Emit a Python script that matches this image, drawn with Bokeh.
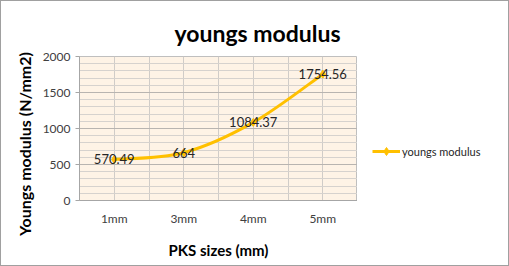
from bokeh.plotting import figure
from bokeh.layouts import row
from bokeh.models import (Range1d, FixedTicker, Legend, LegendItem, ColumnDataSource,
                          SingleIntervalTicker)
from bokeh.embed import file_html
from bokeh.resources import INLINE
from bokeh.core.properties import value

categories = ["1mm", "3mm", "4mm", "5mm"]
values = [570.49, 664, 1084.37, 1754.56]
labels = ["570.49", "664", "1084.37", "1754.56"]
series_name = "youngs modulus"
chart_title = "youngs modulus"
x_title = "PKS sizes (mm)"
y_title = "Youngs modulus (N/mm2)"

FONT = "Lato"
LINE_COLOR = "#FFC000"

xs = [i + 0.5 for i in range(len(categories))]

p = figure(width=356, height=264, output_backend="svg", toolbar_location=None,
           x_range=Range1d(0, len(categories)), y_range=Range1d(0, 2000),
           min_border_left=78, min_border_right=0, min_border_top=55, min_border_bottom=65)
p.background_fill_color = "#FEF3E6"
p.border_fill_color = "white"
p.outline_line_color = "#BFBFBF"

# title (left aligned, offset so it is centred on the whole chart)
p.title.text = chart_title
p.title.align = "left"
p.title.offset = 95
p.title.standoff = 20
p.title.text_font = FONT
p.title.text_font_size = "23px"
p.title.text_font_style = "bold"
p.title.text_color = "black"

# axes
p.xaxis.ticker = FixedTicker(ticks=xs)
p.xaxis.major_label_overrides = {x: c for x, c in zip(xs, categories)}
p.xaxis.major_tick_line_color = None
p.xaxis.minor_tick_line_color = None
p.xaxis.axis_line_color = "#A6A6A6"
p.xaxis.major_label_standoff = 4
p.xaxis.axis_label = x_title
p.xaxis.axis_label_standoff = 12

p.yaxis.ticker = SingleIntervalTicker(interval=500, num_minor_ticks=5)
p.yaxis.major_tick_out = 4
p.yaxis.major_tick_in = 0
p.yaxis.minor_tick_line_color = None
p.yaxis.major_tick_line_color = "#A6A6A6"
p.yaxis.axis_line_color = "#A6A6A6"
p.yaxis.major_label_standoff = 5
p.yaxis.axis_label = y_title + "\u00a0" * 8
p.yaxis.axis_label_standoff = 6

for ax in (p.xaxis, p.yaxis):
    ax.major_label_text_font = FONT
    ax.major_label_text_font_size = "12px"
    ax.major_label_text_color = "#404040"
    ax.axis_label_text_font = FONT
    ax.axis_label_text_font_style = "bold"
    ax.axis_label_text_color = "black"
p.xaxis.axis_label_text_font_size = "15px"
p.yaxis.axis_label_text_font_size = "16px"

# grids
p.xgrid.ticker = FixedTicker(ticks=[i * 0.5 for i in range(2 * len(categories) + 1)])
p.xgrid.grid_line_color = "#D0CCC8"
p.ygrid.grid_line_color = "#B8B4B0"
p.ygrid.minor_grid_line_color = "#D6D2CE"

# smooth (Excel-like) curve through the points
n = len(values)
px = xs
py = values
x0s, y0s, x1s, y1s, cx0, cy0, cx1, cy1 = [], [], [], [], [], [], [], []
for i in range(n - 1):
    p0 = (px[i - 1], py[i - 1]) if i > 0 else (px[i], py[i])
    p1 = (px[i], py[i])
    p2 = (px[i + 1], py[i + 1])
    p3 = (px[i + 2], py[i + 2]) if i + 2 < n else (px[i + 1], py[i + 1])
    x0s.append(p1[0]); y0s.append(p1[1])
    x1s.append(p2[0]); y1s.append(p2[1])
    cx0.append(p1[0] + (p2[0] - p0[0]) / 6); cy0.append(p1[1] + (p2[1] - p0[1]) / 6)
    cx1.append(p2[0] - (p3[0] - p1[0]) / 6); cy1.append(p2[1] - (p3[1] - p1[1]) / 6)
p.bezier(x0=x0s, y0=y0s, x1=x1s, y1=y1s, cx0=cx0, cy0=cy0, cx1=cx1, cy1=cy1,
         line_color=LINE_COLOR, line_width=3)

src = ColumnDataSource(dict(x=xs, y=values, t=labels))
p.scatter("x", "y", source=src, marker="diamond", size=8, color=LINE_COLOR)
p.text("x", "y", text="t", source=src, text_align="center", text_baseline="middle",
       text_font=value(FONT), text_font_size="13px", text_color="#262626")

# legend area as a separate small figure
lf = figure(width=151, height=264, output_backend="svg", toolbar_location=None,
            x_range=Range1d(0, 1), y_range=Range1d(0, 1),
            x_axis_location=None, y_axis_location=None,
            min_border_left=0, min_border_right=0, min_border_top=0, min_border_bottom=0)
lf.grid.visible = False
lf.outline_line_color = None
lf.background_fill_color = "white"
lf.border_fill_color = "white"
leg_line = lf.line([0], [0], line_color=LINE_COLOR, line_width=3, visible=False)
leg_marker = lf.scatter([0], [0], marker="diamond", size=8, color=LINE_COLOR, visible=False)
legend = Legend(items=[LegendItem(label=series_name, renderers=[leg_line, leg_marker])],
                location=(15, 39), border_line_color=None, background_fill_alpha=0,
                glyph_width=28, label_standoff=2, padding=5, margin=0,
                label_text_font=FONT, label_text_font_size="11px", label_text_color="#262626")
lf.add_layout(legend)

layout = row(p, lf, styles={"border": "1px solid #A0A0A0"})

open("out.html", "w").write(file_html(layout, INLINE))
